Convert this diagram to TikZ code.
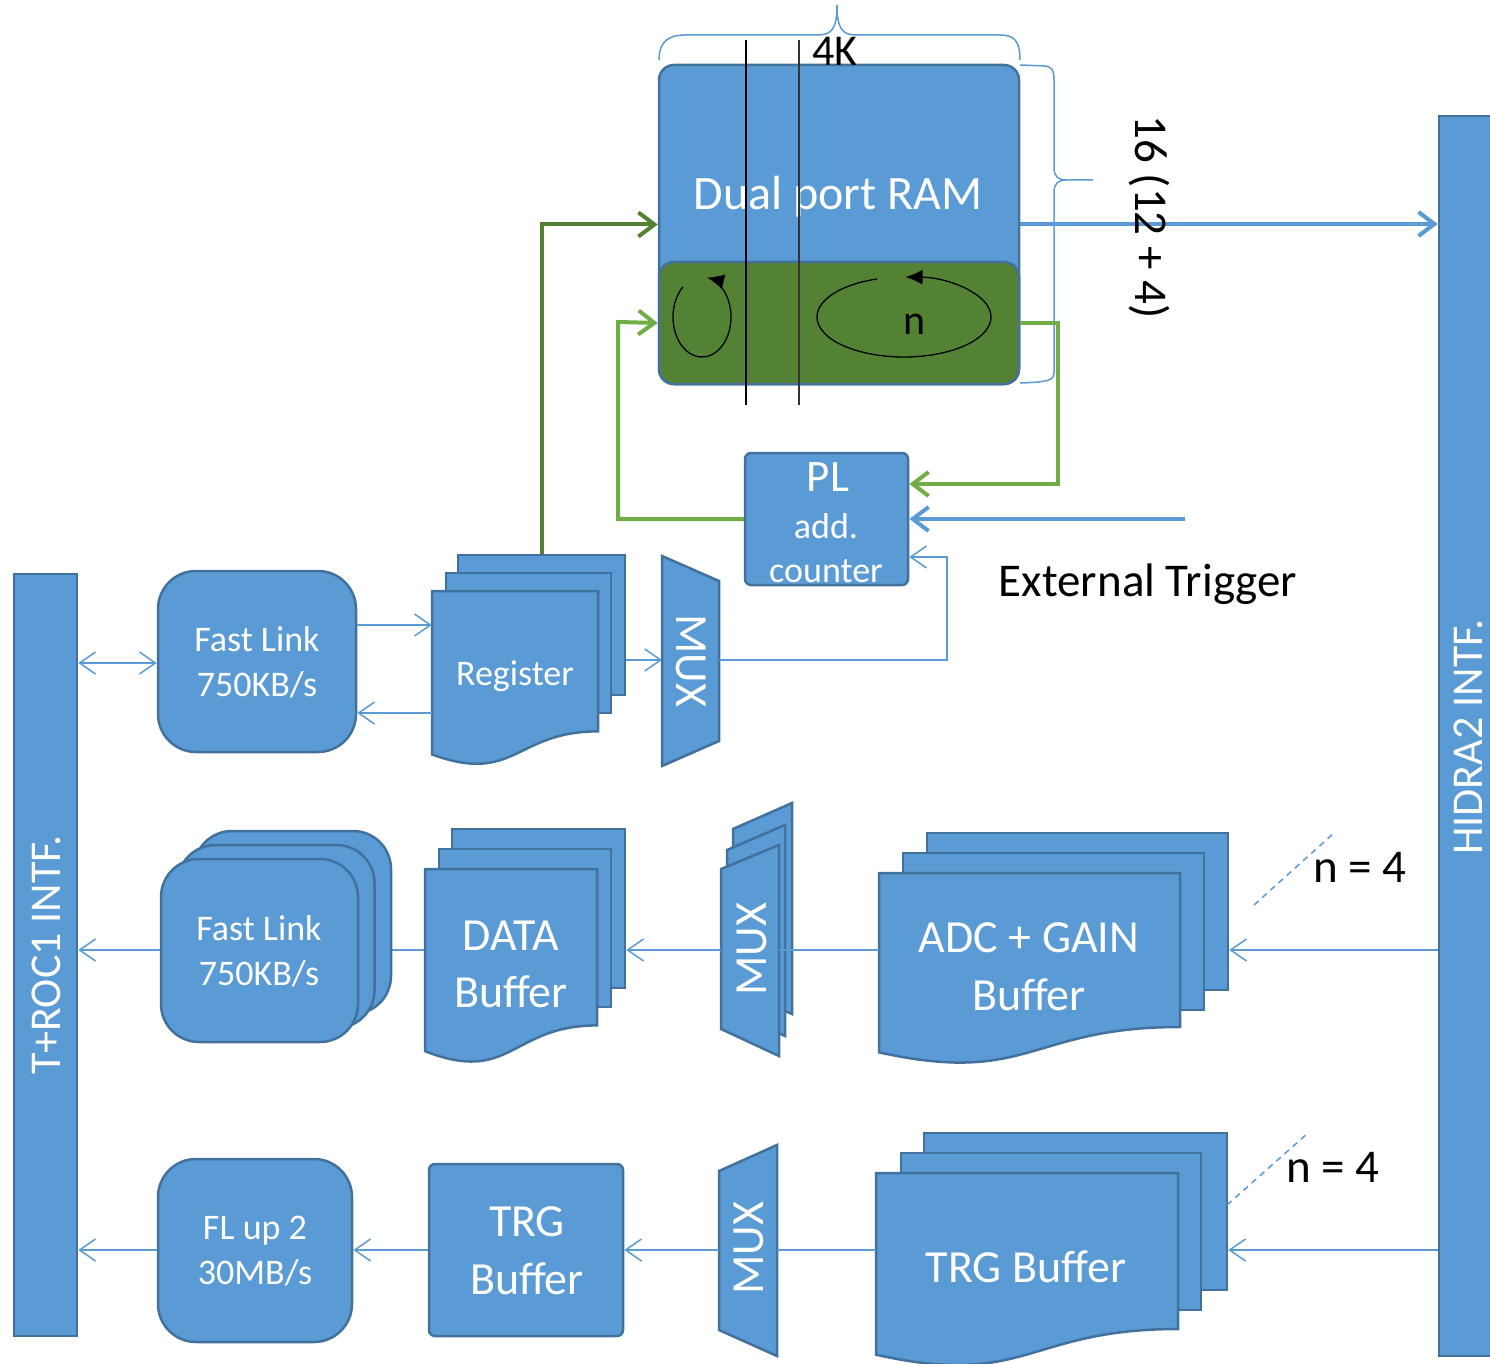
\documentclass[tikz,border=0pt]{standalone}
\usepackage{fontspec}
\setmainfont{Carlito}
\usetikzlibrary{arrows.meta}
\definecolor{bfill}{HTML}{5B9BD5}
\definecolor{bline}{HTML}{41719C}
\definecolor{gdark}{HTML}{548235}
\definecolor{glight}{HTML}{70AD47}
\newcommand\fz[2]{\fontsize{#1}{#2}\selectfont}
% document-style sheet with a wavy lower edge, plus a named anchor node
\newcommand\docsheet[5]{%
  \draw[blk] (#1,#2) -- ({#1+#3},#2) -- ({#1+#3},{#2+0.802*#4})
    .. controls ({#1+0.5*#3},{#2+0.802*#4}) and ({#1+0.5*#3},{#2+1.1075*#4}) .. (#1,{#2+0.934*#4}) -- cycle;
  \node[inner sep=0pt, minimum width=#3pt, minimum height=#4pt*0.8] (#5) at ({#1+0.5*#3},{#2+0.4*#4}) {};}
\begin{document}
\begin{tikzpicture}[x=1pt,y=-1pt,
  blk/.style={fill=bfill, draw=bline, line width=2.5pt},
  wt/.style={text=white, inner sep=0pt, align=center},
  bt/.style={text=black, inner sep=0pt, align=center},
  conn/.style={draw=bfill, line width=1.5pt},
  barb/.style={-{Straight Barb[length=16pt,width=22pt]}},
  dbarb/.style={{Straight Barb[length=16pt,width=22pt]}-{Straight Barb[length=16pt,width=22pt]}},
  heavy/.style={line width=4pt, -{Straight Barb[length=16pt,width=24pt]}},
  brace/.style={draw=bfill, line width=1.5pt},
  hint/.style={draw=bfill, line width=1.5pt, dash pattern=on 6pt off 5pt},
  loop/.style={line width=1.3pt, -{Latex[length=17pt,width=15pt]}},
  muxtxt/.style={wt, font=\fz{46}{50}}
]
\useasboundingbox (0,0) rectangle (1490,1364);
\clip (0,0) rectangle (1490,1364);

% row heights of the data paths
\coordinate (y1a) at (0,625);
\coordinate (y1b) at (0,713);
\coordinate (y1c) at (0,663);
\coordinate (y2) at (0,950);
\coordinate (y3) at (0,1250);

% interface bars
\node[blk, minimum width=63pt, minimum height=762pt] (troc) at (45.5,955) {};
\node[wt, rotate=90, font=\fz{44}{50}] (trocT) at (46,955) {T+ROC1 INTF.};
\node[blk, minimum width=66pt, minimum height=1240pt] (hidra) at (1472,736) {};
\node[wt, rotate=90, font=\fz{44}{50}] (hidraT) at (1468,737) {HIDRA2 INTF.};

% ---------- dual port RAM ----------
\draw[brace] (659,60) .. controls (659,42) and (668,35) .. (685,35) -- (818,35)
  .. controls (832,35) and (837,28) .. (837,5) .. controls (837,28) and (842,35) .. (856,35)
  -- (1000,35) .. controls (1015,35) and (1020,42) .. (1020,60);
\draw[brace] (1020,65) -- (1045,66) .. controls (1052,67) and (1054,70) .. (1054,80) -- (1054,168)
  .. controls (1054,176) and (1058,180) .. (1066,180) -- (1093,180)
  (1066,180) .. controls (1058,180) and (1054,184) .. (1054,192) -- (1054,372)
  .. controls (1054,380) and (1050,382) .. (1020,383);
\node[blk, rounded corners=15pt, minimum width=360pt, minimum height=319pt] (ram) at (839,224.5) {};
\node[fill=gdark, draw=bline, line width=2.5pt, rounded corners=15pt, minimum width=360pt, minimum height=122pt] (ramg) at (839,323) {};
\node[wt, font=\fz{48}{58}] (ramT) at (838,197) {Dual port RAM};
\draw[loop] (702,317) ++(-131:29 and 40) arc[start angle=-131, end angle=-440, x radius=29, y radius=40];
\draw[loop] (904,317) ++(-108:87 and 40) arc[start angle=-108, end angle=-449, x radius=87, y radius=40];
\node[bt, font=\fz{42}{48}] (nloop) at (915,324) {n};
\draw[line width=2pt] (746,40) -- (746,405);
\draw[line width=2pt, black!80] (799,40) -- (799,405);
\node[bt, font=\fz{44}{50}] (kk) at (835,51) {4K};
\draw[heavy, draw=bfill] (ram.east |- 0,224) -- (hidra.west |- 0,224);
\node[bt, rotate=-90, font=\fz{47}{56}] (width) at (1149,217) {16 (12 + 4)};

% ---------- PL address counter ----------
\node[blk, rounded corners=6pt, minimum width=163pt, minimum height=132pt] (pl) at (826.5,519) {};
\node[wt, font=\fz{45}{50}] (plA) at (828,477) {PL};
\node[wt, font=\fz{36}{40}] (plB) at (826,526) {add.};
\node[wt, font=\fz{36}{40}] (plC) at (826,571) {counter};
\node[bt, font=\fz{47}{56}] (ext) at (1148,584) {External Trigger};
\coordinate (trig) at (1185,519);
\coordinate (gturn) at (1058,484);
\coordinate (gleft) at (618,322);
\draw[heavy, draw=glight] (ramg.east) -| (gturn) -- (pl.east |- gturn);
\draw[heavy, draw=glight] (pl.west) -| (gleft) -- (ramg.west);
\draw[heavy, draw=bfill] (trig) -- (pl.east);

% ---------- register path ----------
\node[blk, rounded corners=38pt, minimum width=198pt, minimum height=181pt] (flA) at (257,661.5) {};
\node[wt, font=\fz{36}{45}] (flAT) at (257,662) {Fast Link\\750KB/s};
\node[blk, minimum width=167pt, minimum height=140pt] (regB) at (541.5,625) {};
\node[blk, minimum width=165pt, minimum height=140pt] (regM) at (528.5,643) {};
\docsheet{432}{591}{166}{175}{regF}
\node[wt, font=\fz{36}{44}] (regT) at (515,676) {Register};
\draw[blk] (662,556) -- (719,581) -- (719,741) -- (662,766) -- cycle;
\node[muxtxt, rotate=-90] (mux1) at (691,661) {MUX};
\coordinate (m1w) at (662,660);
\coordinate (m1e) at (719,660);
\coordinate (fbturn) at (947,557);
\draw[conn, dbarb] (troc.east |- y1c) -- (flA.west |- y1c);
\draw[conn, barb] (flA.east |- y1a) -- (regF.west |- y1a);
\draw[conn, barb] (regF.west |- y1b) -- (flA.east |- y1b);
\draw[conn, barb] (regB.east |- m1w) -- (m1w);
\draw[conn, barb] (m1e) -| (fbturn) -- (pl.east |- fbturn);
\draw[heavy, draw=gdark] (regB.north) |- (ram.west);

% ---------- data path ----------
\draw[conn, barb] (425,950) -- (358,950);
\node[blk, rounded corners=38pt, minimum width=197pt, minimum height=183pt] (flBb) at (292.5,922.5) {};
\node[blk, rounded corners=38pt, minimum width=197pt, minimum height=183pt] (flBm) at (276,936.5) {};
\node[blk, rounded corners=38pt, minimum width=197pt, minimum height=183pt] (flB) at (259.5,950.5) {};
\node[wt, font=\fz{36}{45}] (flBT) at (259,951) {Fast Link\\750KB/s};
\node[blk, minimum width=173pt, minimum height=159pt] (dataB) at (538.5,908.5) {};
\node[blk, minimum width=172pt, minimum height=158pt] (dataM) at (525,928) {};
\docsheet{425}{869}{172}{195}{dataF}
\node[wt, font=\fz{46}{57}] (dataT) at (511,964) {DATA\\Buffer};
\draw[blk] (733,829) -- (792,803) -- (792,1014) -- (733,989) -- cycle;
\draw[blk] (727,850) -- (785,825) -- (785,1036) -- (727,1010) -- cycle;
\draw[blk] (721,869) -- (779,845) -- (779,1056) -- (721,1029) -- cycle;
\node[muxtxt, rotate=90] (mux2) at (752,949) {MUX};
\coordinate (m2w) at (721,950);
\coordinate (m2e) at (779,950);
\node[blk, minimum width=301pt, minimum height=157pt] (adcB) at (1077.5,911.5) {};
\node[blk, minimum width=301pt, minimum height=157pt] (adcM) at (1053.5,931.5) {};
\docsheet{879}{873}{301}{192}{adcF}
\node[wt, font=\fz{46}{58}] (adcT) at (1029,967) {ADC + GAIN\\Buffer};
\draw[conn, barb] (hidra.west |- y2) -- (adcB.east |- y2);
\draw[conn] (adcF.west |- y2) -- (m2e);
\draw[conn, barb] (m2w) -- (dataB.east |- y2);
\draw[conn, barb] (flB.west |- y2) -- (troc.east |- y2);
\draw[hint] (1254,905) -- (1334,833);
\node[bt, font=\fz{47}{56}] (nA) at (1360,867) {n = 4};

% ---------- trigger path ----------
\node[blk, rounded corners=38pt, minimum width=194pt, minimum height=183pt] (flC) at (255,1250.5) {};
\node[wt, font=\fz{36}{45}] (flCT) at (255,1251) {FL up 2\\30MB/s};
\node[blk, rounded corners=6pt, minimum width=194pt, minimum height=172pt] (trg) at (526,1250) {};
\node[wt, font=\fz{46}{58}] (trgT) at (527,1251) {TRG\\Buffer};
\draw[blk] (719,1171) -- (777,1145) -- (777,1356) -- (719,1330) -- cycle;
\node[muxtxt, rotate=90] (mux3) at (749,1248) {MUX};
\coordinate (m3w) at (719,1250);
\coordinate (m3e) at (777,1250);
\node[blk, minimum width=303pt, minimum height=157pt] (tbB) at (1075.5,1211.5) {};
\node[blk, minimum width=300pt, minimum height=157pt] (tbM) at (1051,1231.5) {};
\docsheet{876}{1173}{302}{194.5}{tbF}
\node[wt, font=\fz{46}{58}] (tbT) at (1026,1267) {TRG Buffer};
\draw[conn, barb] (hidra.west |- y3) -- (tbB.east |- y3);
\draw[conn] (tbF.west |- y3) -- (m3e);
\draw[conn, barb] (m3w) -- (trg.east);
\draw[conn, barb] (trg.west) -- (flC.east |- y3);
\draw[conn, barb] (flC.west |- y3) -- (troc.east |- y3);
\draw[hint] (1227,1205) -- (1308,1133);
\node[bt, font=\fz{47}{56}] (nB) at (1333,1167) {n = 4};
\end{tikzpicture}
\end{document}
